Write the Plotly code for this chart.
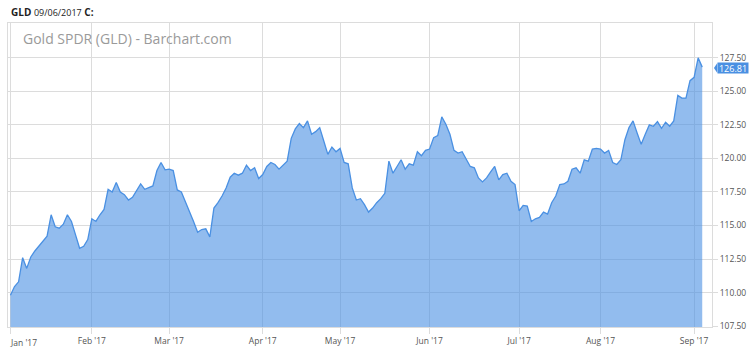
import plotly.graph_objects as go

# Trading-day index (Jan 3 2017 .. Sep 6 2017)
closes = [
    109.8, 110.45, 110.8, 112.6, 111.8, 112.65, 113.1, 113.45, 113.8, 114.2,
    115.8, 114.9, 114.8, 115.1, 115.8, 115.3, 114.3, 113.3, 113.45, 113.95,
    115.5, 115.3, 115.8, 116.2, 117.7, 117.5, 118.2, 117.5, 117.3, 116.9,
    117.1, 117.6, 118.1, 117.7, 117.8, 117.95, 119.1, 119.7, 119.15, 119.2,
    119.1, 117.65, 117.5, 116.8, 116.1, 115.3, 114.5, 114.7, 114.75, 114.15,
    116.3, 116.7, 117.2, 117.8, 118.6, 118.9, 118.75, 118.9, 119.5, 119.1,
    119.3, 118.5, 118.8, 119.4, 119.7, 119.55, 119.2, 119.5, 119.8, 121.5,
    122.2, 122.6, 122.3, 122.8, 121.8, 122.0, 122.3, 121.3, 120.3, 120.85,
    120.5, 120.75, 119.7, 119.6, 117.8, 116.9, 117.0, 116.55, 116.0, 116.3,
    116.7, 117.0, 117.4, 119.8, 118.9, 119.4, 119.9, 119.2, 119.6, 119.5,
    120.5, 120.2, 120.6, 120.7, 121.55, 121.7, 123.1, 122.55, 121.8, 120.6,
    120.4, 120.5, 120.0, 119.4, 119.3, 118.55, 118.25, 118.55, 119.0, 119.4,
    118.4, 118.8, 118.9, 118.3, 118.05, 116.1, 116.5, 116.45, 115.3, 115.5,
    115.6, 116.0, 115.85, 116.7, 117.2, 118.05, 118.1, 118.3, 119.2, 119.3,
    118.9, 119.9, 119.8, 120.7, 120.75, 120.7, 120.4, 120.6, 119.7, 119.55,
    119.9, 121.4, 122.3, 122.8, 121.9, 121.05, 121.8, 122.5, 122.4, 122.75,
    122.25, 122.7, 122.4, 122.8, 124.7, 124.5, 124.5, 125.8, 126.05, 127.5,
    126.81,
]
day_index = list(range(len(closes)))

month_start_index = [0, 20, 39, 62, 81, 103, 125, 145, 168]
month_labels = ["Jan '17", "Feb '17", "Mar '17", "Apr '17", "May '17",
                "Jun '17", "Jul '17", "Aug '17", "Sep '17"]

price_ticks = [107.5, 110.0, 112.5, 115.0, 117.5, 120.0, 122.5, 125.0, 127.5]

last_price = closes[-1]

LINE = "rgb(74,144,226)"
FILL = "rgba(74,144,226,0.6)"
GRID = "#dcdcdc"
FONT = "Open Sans"
TICK_FONT = dict(family=FONT, size=8.5, color="#555")

# first label is drawn left-aligned separately (as in the reference)
shown_ticktext = [""] + month_labels[1:]

fig = go.Figure()
fig.add_trace(go.Scatter(
    x=day_index, y=closes, mode="lines",
    line=dict(color=LINE, width=1.3),
    fill="tozeroy", fillcolor=FILL,
    hoverinfo="skip", showlegend=False,
))

fig.update_layout(
    width=750, height=349,
    margin=dict(l=8, r=38, t=23, b=22),
    paper_bgcolor="white", plot_bgcolor="white",
    font=dict(family=FONT, size=10, color="#555"),
    xaxis=dict(
        range=[-0.6, 172.4], tickmode="array",
        tickvals=month_start_index, ticktext=shown_ticktext,
        showgrid=True, gridcolor=GRID, gridwidth=1,
        ticks="outside", ticklen=6, tickcolor=GRID,
        showline=True, linecolor=GRID, mirror=True,
        zeroline=False, tickfont=TICK_FONT,
        automargin=False, fixedrange=True,
    ),
    yaxis=dict(
        range=[107.43, 130.1], side="right", tickmode="array",
        tickvals=price_ticks, tickformat=".2f",
        showgrid=True, gridcolor=GRID, gridwidth=1,
        ticks="outside", ticklen=5, tickcolor=GRID,
        showline=True, linecolor=GRID, mirror=True,
        zeroline=False, tickfont=TICK_FONT,
        automargin=False, fixedrange=True,
    ),
)

# Jan label, left aligned at its gridline
fig.add_annotation(
    xref="x", yref="paper", x=month_start_index[0], y=0, xshift=-2, yshift=-8,
    xanchor="left", yanchor="top", text=month_labels[0], showarrow=False,
    font=TICK_FONT,
)

# Header text
fig.add_annotation(
    xref="paper", yref="paper", x=0, y=1, xshift=1, yshift=11,
    xanchor="left", yanchor="middle",
    text="<b>GLD</b> <span style='font-size:9px'>09/06/2017</span> <b>C:</b>",
    showarrow=False, font=dict(family=FONT, size=10, color="#222"),
)

# Chart title inside the plot
fig.add_annotation(
    xref="paper", yref="paper", x=0, y=1, xshift=13, yshift=-4,
    xanchor="left", yanchor="top",
    text="Gold SPDR (GLD) - Barchart.com", showarrow=False,
    font=dict(family=FONT, size=14, color="#9a9a9a"),
)

# Last price label on the right axis
fig.add_annotation(
    xref="paper", yref="y", x=1, y=last_price, xshift=5, yshift=-1,
    xanchor="left", yanchor="middle",
    text=f"{last_price:.2f}", showarrow=False,
    bgcolor=LINE, borderpad=0, width=30, height=10,
    font=dict(family=FONT, size=9, color="white"),
)
fig.add_shape(
    type="path", xref="paper", yref="y",
    path=f"M 1.0028 {last_price - 0.07} L 1.0075 {last_price + 0.3} L 1.0075 {last_price - 0.44} Z",
    fillcolor=LINE, line=dict(width=0),
)

fig.write_html("out.html")
